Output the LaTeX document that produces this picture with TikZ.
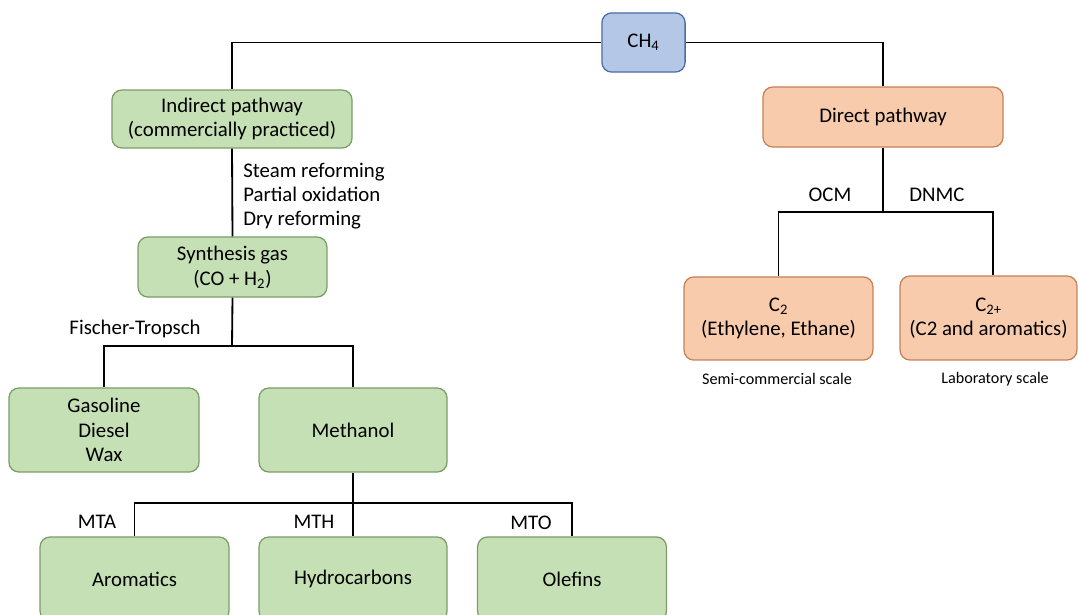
\documentclass[tikz,border=0pt]{standalone}
\usepackage{fontspec}
\setmainfont{Carlito}
\usetikzlibrary{positioning}
\definecolor{greenfill}{HTML}{C5E0B4}
\definecolor{greenline}{HTML}{7E9C69}
\definecolor{orangefill}{HTML}{F8CBAD}
\definecolor{orangeline}{HTML}{C58258}
\definecolor{bluefill}{HTML}{B4C7E7}
\definecolor{blueline}{HTML}{4E6CA3}
\tikzset{
  box/.style={rounded corners=7pt,line width=0.9pt,align=center,inner sep=0pt,
    font=\fontsize{14.8}{17.5}\selectfont},
  greenbox/.style={box,fill=greenfill,draw=greenline},
  orangebox/.style={box,fill=orangefill,draw=orangeline},
  bluebox/.style={box,fill=bluefill,draw=blueline},
  lbl/.style={inner sep=0pt,align=left,font=\fontsize{14.8}{17}\selectfont},
  note/.style={inner sep=0pt,font=\fontsize{11.5}{13}\selectfont},
  link/.style={line width=1.3pt,black}
}
\begin{document}
\begin{tikzpicture}[x=0.025cm,y=-0.025cm]
    \clip (0,0) rectangle (1078,615);

    \node[bluebox,minimum width=2.08cm,minimum height=1.48cm] (ch4) at (643.5,42.5) {CH\textsubscript{4}};
    \node[greenbox,minimum width=6cm,minimum height=1.45cm] (ind) at (232,119) {Indirect pathway\\(commercially practiced)};
    \node[orangebox,minimum width=6cm,minimum height=1.5cm] (dir) at (883,117) {Direct pathway};
    \node[greenbox,minimum width=4.72cm,minimum height=1.5cm] (syn) at (232.5,267) {Synthesis gas\\(CO + H\textsubscript{2})};
    \node[greenbox,minimum width=4.75cm,minimum height=2.1cm] (gas) at (104,430) {Gasoline\\Diesel\\Wax};
    \node[greenbox,minimum width=4.7cm,minimum height=2.1cm] (meth) at (353,430) {Methanol};
    \node[greenbox,minimum width=4.72cm,minimum height=2.1cm] (aro) at (134.5,579) {Aromatics};
    \node[greenbox,minimum width=4.7cm,minimum height=2.1cm] (hyd) at (353,579) {Hydrocarbons};
    \node[greenbox,minimum width=4.72cm,minimum height=2.1cm] (ole) at (572,579) {Olefins};
    \node[orangebox,minimum width=4.72cm,minimum height=2.08cm] (c2) at (778.5,318.5) {C\textsubscript{2}\\(Ethylene, Ethane)};
    \node[orangebox,minimum width=4.42cm,minimum height=2.1cm] (c2p) at (988.5,318) {C\textsubscript{2+}\\(C2 and aromatics)};

    % labels
    \node[lbl,anchor=west] (steam) at (243,196) {Steam reforming\\Partial oxidation\\Dry reforming};
    \node[lbl] (ftl) at (135,329) {Fischer-Tropsch};
    \node[lbl] (mta) at (97,522) {MTA};
    \node[lbl] (mth) at (314,522) {MTH};
    \node[lbl] (mto) at (531,523) {MTO};
    \node[lbl] (ocm) at (830,195) {OCM};
    \node[lbl] (dnmc) at (937,195) {DNMC};
    \node[note] (semi) at (777,379) {Semi-commercial scale};
    \node[note] (lab) at (995,379) {Laboratory scale};

    \coordinate (ft) at (232,346);
    \coordinate (mt) at (353,503);
    \coordinate (dx) at (883,212);
    \coordinate (dy) at (993,212);

    \draw[link] (ch4.west) -| (ind.north);
    \draw[link] (ch4.east) -| (dir.north);
    \draw[link] (ind.south) -- (syn.north);
    \draw[link] (syn.south) -- (ft);
    \draw[link] (gas.north) |- (ft) -| (meth.north);
    \draw[link] (meth.south) -- (mt);
    \draw[link] (aro.north) |- (mt) -| (ole.north);
    \draw[link] (mt) -- (hyd.north);
    \draw[link] (dir.south) -- (dx);
    \draw[link] (c2.north) |- (dx) -- (dy) -- (dy |- c2p.north);

 \end{tikzpicture}
\end{document}
